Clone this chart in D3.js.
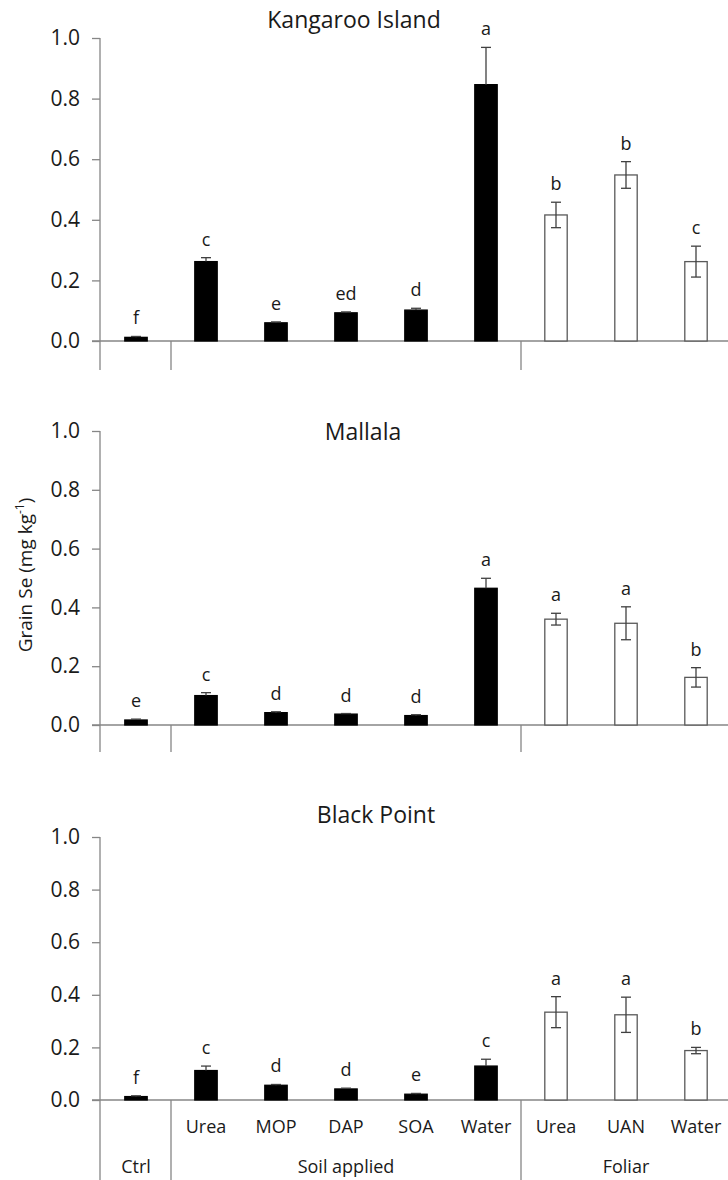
<!DOCTYPE html>
<html>

<head>
    <meta charset="utf-8">
    <title>Grain Se</title>
    <style type="text/css">
    body {
        margin: 0;
        background: #fff;
    }
    svg text {
        font-family: "Open Sans", sans-serif;
        fill: #1a1a1a;
    }
    </style>
</head>

<body>
    <script src="https://cdn.jsdelivr.net/npm/d3@7"></script>
    <script>
    // treatments along the x axis (same for all three sites)
    var treatments = ["Ctrl", "Urea", "MOP", "DAP", "SOA", "Water", "Urea", "UAN", "Water"];
    var application = ["ctrl", "soil", "soil", "soil", "soil", "soil", "foliar", "foliar", "foliar"];
    var groupNames = ["Ctrl", "Soil applied", "Foliar"];
    var groupSizes = [1, 5, 3];

    var sites = ["Kangaroo Island", "Mallala", "Black Point"];

    // mean grain Se (mg/kg), standard errors and significance letters
    var kiMean = [0.012, 0.262, 0.060, 0.093, 0.102, 0.846, 0.416, 0.548, 0.262];
    var kiSe = [0.003, 0.013, 0.003, 0.003, 0.006, 0.123, 0.042, 0.044, 0.051];
    var kiLetters = ["f", "c", "e", "ed", "d", "a", "b", "b", "c"];

    var maMean = [0.017, 0.100, 0.042, 0.037, 0.032, 0.465, 0.360, 0.346, 0.162];
    var maSe = [0.003, 0.010, 0.003, 0.002, 0.003, 0.034, 0.020, 0.056, 0.033];
    var maLetters = ["e", "c", "d", "d", "d", "a", "a", "a", "b"];

    var bpMean = [0.013, 0.112, 0.056, 0.042, 0.022, 0.129, 0.334, 0.324, 0.188];
    var bpSe = [0.003, 0.017, 0.003, 0.003, 0.003, 0.026, 0.059, 0.067, 0.012];
    var bpLetters = ["f", "c", "d", "d", "e", "c", "a", "a", "b"];

    var yTicks = [0, 0.2, 0.4, 0.6, 0.8, 1.0];

    // panel placement (pixels)
    var panels = [
        { mean: kiMean, se: kiSe, letters: kiLetters, y0: 341, y1: 38, axisEnd: 370, titleX: 354, titleY: 28 },
        { mean: maMean, se: maSe, letters: maLetters, y0: 725, y1: 431, axisEnd: 752, titleX: 363, titleY: 440 },
        { mean: bpMean, se: bpSe, letters: bpLetters, y0: 1100, y1: 837, axisEnd: 1180, titleX: 376, titleY: 823 }
    ];

    var width = 728,
        height = 1180,
        axisX = 100;

    var svg = d3.select("body")
        .append("svg")
        .attr("width", width)
        .attr("height", height);

    var idx = d3.range(treatments.length);

    var x = d3.scaleBand()
        .domain(idx)
        .range([101, 731])
        .padding(0);

    var barW = x.bandwidth() * 0.32;

    function cx(i) {
        return x(i) + x.bandwidth() / 2;
    }

    function isFoliar(i) {
        return application[i] == "foliar";
    }

    // group boundaries (start index of each group)
    var groupStart = [];
    var acc = 0;
    groupSizes.forEach(function(n) {
        groupStart.push(acc);
        acc += n;
    });

    panels.forEach(function(p, pi) {
        var y = d3.scaleLinear()
            .domain([0, 1])
            .range([p.y0, p.y1]);

        var g = svg.append("g");

        // title
        g.append("text")
            .attr("x", p.titleX)
            .attr("y", p.titleY)
            .attr("text-anchor", "middle")
            .style("font-size", "23px")
            .text(sites[pi]);

        // y axis
        var yAxis = d3.axisLeft(y)
            .tickValues(yTicks)
            .tickFormat(d3.format(".1f"))
            .tickSize(8)
            .tickPadding(12);

        var ya = g.append("g")
            .attr("transform", "translate(" + axisX + ",0)")
            .call(yAxis);
        ya.select(".domain").remove();
        ya.selectAll(".tick line").attr("stroke", "#868686").attr("stroke-width", 1.3);
        ya.selectAll(".tick text")
            .style("font-size", "21px")
            .style("font-family", "'Open Sans', sans-serif")
            .attr("fill", "#1a1a1a");

        g.append("line")
            .attr("x1", axisX).attr("x2", axisX)
            .attr("y1", y(1)).attr("y2", p.axisEnd)
            .attr("stroke", "#868686")
            .attr("stroke-width", 1.3);

        // x axis line at zero
        g.append("line")
            .attr("x1", axisX - 8).attr("x2", width)
            .attr("y1", y(0)).attr("y2", y(0))
            .attr("stroke", "#868686")
            .attr("stroke-width", 1.3);

        // group dividers
        groupStart.slice(1).forEach(function(s) {
            g.append("line")
                .attr("x1", x(s)).attr("x2", x(s))
                .attr("y1", y(0)).attr("y2", p.axisEnd)
                .attr("stroke", "#868686")
                .attr("stroke-width", 1.3);
        });

        // bars
        g.selectAll(".bar")
            .data(idx)
            .enter().append("rect")
            .attr("class", "bar")
            .attr("x", function(i) { return cx(i) - barW / 2; })
            .attr("width", barW)
            .attr("y", function(i) { return y(p.mean[i]); })
            .attr("height", function(i) { return y(0) - y(p.mean[i]); })
            .attr("fill", function(i) { return isFoliar(i) ? "#fff" : "#000"; })
            .attr("stroke", function(i) { return isFoliar(i) ? "#595959" : "#000"; })
            .attr("stroke-width", 1.3);

        // error bars (the lower half is hidden inside the black bars)
        var eb = g.selectAll(".err")
            .data(idx)
            .enter().append("g")
            .attr("class", "err")
            .attr("stroke", "#404040")
            .attr("stroke-width", 1.3);
        eb.append("line")
            .attr("x1", cx)
            .attr("x2", cx)
            .attr("y1", function(i) { return isFoliar(i) ? y(p.mean[i] - p.se[i]) : y(p.mean[i]); })
            .attr("y2", function(i) { return y(p.mean[i] + p.se[i]); });
        eb.append("line")
            .attr("x1", function(i) { return cx(i) - 5; })
            .attr("x2", function(i) { return cx(i) + 5; })
            .attr("y1", function(i) { return y(p.mean[i] + p.se[i]); })
            .attr("y2", function(i) { return y(p.mean[i] + p.se[i]); });
        eb.filter(isFoliar).append("line")
            .attr("x1", function(i) { return cx(i) - 5; })
            .attr("x2", function(i) { return cx(i) + 5; })
            .attr("y1", function(i) { return y(p.mean[i] - p.se[i]); })
            .attr("y2", function(i) { return y(p.mean[i] - p.se[i]); });

        // significance letters
        g.selectAll(".letter")
            .data(idx)
            .enter().append("text")
            .attr("class", "letter")
            .attr("x", cx)
            .attr("y", function(i) { return y(p.mean[i] + p.se[i]) - 12; })
            .attr("text-anchor", "middle")
            .style("font-size", "18px")
            .text(function(i) { return p.letters[i]; });

        // category labels only on the bottom panel
        if (pi == panels.length - 1) {
            g.selectAll(".cat")
                .data(idx.slice(1))
                .enter().append("text")
                .attr("class", "cat")
                .attr("x", cx)
                .attr("y", y(0) + 33)
                .attr("text-anchor", "middle")
                .style("font-size", "18px")
                .text(function(i) { return treatments[i]; });

            g.selectAll(".grp")
                .data(groupNames)
                .enter().append("text")
                .attr("class", "grp")
                .attr("x", function(d, k) {
                    var a = x(groupStart[k]);
                    var b = x(groupStart[k] + groupSizes[k] - 1) + x.bandwidth();
                    return (a + b) / 2;
                })
                .attr("y", y(0) + 73)
                .attr("text-anchor", "middle")
                .style("font-size", "18px")
                .text(function(d) { return d; });
        }
    });

    // y axis title (middle panel)
    var yl = svg.append("text")
        .attr("transform", "translate(32,575) rotate(-90)")
        .attr("text-anchor", "middle")
        .style("font-size", "19px");
    yl.append("tspan").text("Grain Se (mg kg");
    yl.append("tspan").attr("baseline-shift", "super").style("font-size", "12px").text("-1");
    yl.append("tspan").text(")");
    </script>
</body>

</html>
